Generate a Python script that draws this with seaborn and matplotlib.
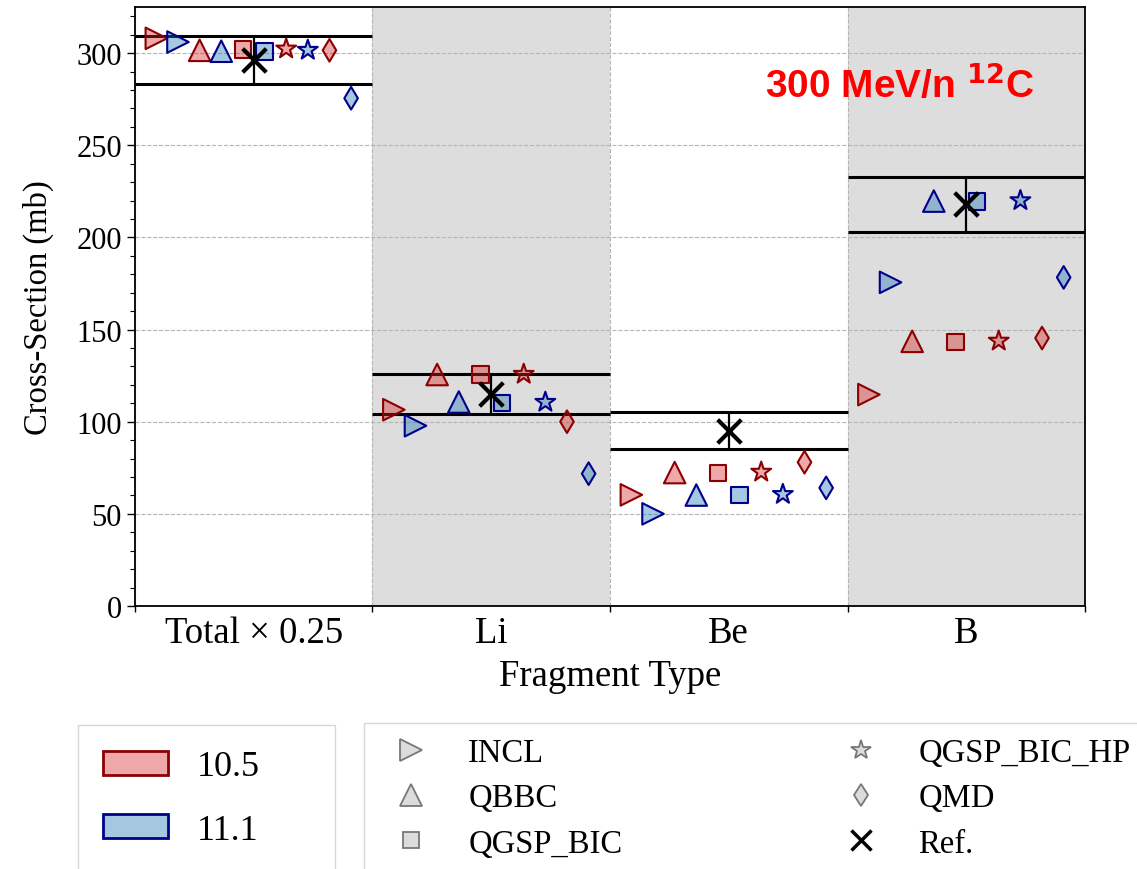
import numpy as np
import pandas as pd
import matplotlib
matplotlib.use("Agg")
import matplotlib.pyplot as plt
from matplotlib.lines import Line2D
from matplotlib.patches import Patch
from matplotlib.ticker import MultipleLocator
import seaborn as sns

# ---------------- data ----------------
categories = ["Total × 0.25", "Li", "Be", "B"]
models = ["INCL", "QBBC", "QGSP_BIC", "QGSP_BIC_HP", "QMD"]
versions = ["10.5", "11.1"]

# values per category, ordered as models (Total already scaled by 0.25)
v105_total = [308.0, 301.5, 302.0, 302.3, 301.5]
v105_li = [106.5, 125.6, 125.6, 125.8, 100.0]
v105_be = [60.3, 72.4, 72.1, 72.7, 78.0]
v105_b = [114.7, 143.6, 143.3, 143.8, 145.4]

v111_total = [306.0, 301.0, 301.0, 301.6, 275.5]
v111_li = [97.8, 110.7, 110.2, 110.6, 71.8]
v111_be = [50.0, 60.2, 60.2, 60.6, 64.1]
v111_b = [175.6, 219.7, 219.4, 220.0, 178.3]

ref_values = [296.0, 115.0, 95.0, 218.0]
ref_errors = [13.0, 11.0, 10.0, 15.0]

# ---------------- styling ----------------
sns.set_theme(style="ticks")
plt.rcParams["font.family"] = ["Liberation Serif", "DejaVu Serif"]
plt.rcParams["mathtext.fontset"] = "custom"
plt.rcParams["mathtext.bf"] = "Liberation Sans Narrow:bold"
plt.rcParams["mathtext.rm"] = "Liberation Sans Narrow:bold"
for k in ("text.color", "axes.labelcolor", "xtick.color", "ytick.color",
          "xtick.labelcolor", "ytick.labelcolor"):
    plt.rcParams[k] = "black"

tab_red = matplotlib.colors.to_rgb("#d62728")
tab_blue = matplotlib.colors.to_rgb("#1f77b4")
face = {"10.5": (*tab_red, 0.4), "11.1": (*tab_blue, 0.4)}
edge = {"10.5": "#8b0000", "11.1": "#00008b"}
marker_map = {"INCL": ">", "QBBC": "^", "QGSP_BIC": "s", "QGSP_BIC_HP": "*", "QMD": "d"}
msize = {"INCL": 15.5, "QBBC": 15.5, "QGSP_BIC": 12, "QGSP_BIC_HP": 15, "QMD": 11.5}
size_map = {m: msize[m] ** 2 for m in models}

# ---------------- long table ----------------
vals = {"10.5": [v105_total, v105_li, v105_be, v105_b],
        "11.1": [v111_total, v111_li, v111_be, v111_b]}
offsets = np.linspace(-0.41, 0.41, 10)
rows = []
for ci, cat in enumerate(categories):
    for mi, m in enumerate(models):
        for vi, v in enumerate(versions):
            rows.append({"x": ci + offsets[2 * mi + vi], "y": vals[v][ci][mi],
                         "model": m, "version": v})
df = pd.DataFrame(rows)

fig = plt.figure(figsize=(11.37, 8.70), dpi=100)
ax = fig.add_axes([0.1187, 0.3023, 0.8356, 0.6885])

for ci in (1, 3):
    ax.axvspan(ci - 0.5, ci + 0.5, color="#dddddd", zorder=0, lw=0)

for v in versions:
    sub = df[df.version == v]
    sns.scatterplot(data=sub, x="x", y="y", style="model", size="model",
                    markers=marker_map, sizes=size_map, style_order=models,
                    size_order=models, color=face[v], edgecolor=edge[v],
                    linewidth=1.5, legend=False, ax=ax, zorder=3)

xs = np.arange(len(categories))
ref_lo = np.array(ref_values) - np.array(ref_errors)
ref_hi = np.array(ref_values) + np.array(ref_errors)
ax.hlines(ref_hi, xs - 0.5, xs + 0.5, color="black", lw=2.2, zorder=2)
ax.hlines(ref_lo, xs - 0.5, xs + 0.5, color="black", lw=2.2, zorder=2)
ax.vlines(xs, ref_lo, ref_hi, color="black", lw=1.6, zorder=2)
ref_df = pd.DataFrame({"x": xs, "y": ref_values})
sns.scatterplot(data=ref_df, x="x", y="y", marker="x", s=17 ** 2, color="black",
                linewidth=3, legend=False, ax=ax, zorder=4)

ax.set_xlim(-0.5, 3.5)
ax.set_ylim(0, 325)
ax.set_xticks(np.arange(-0.5, 4.0, 1.0))
ax.set_xticklabels([])
ax.set_xticks(xs, minor=True)
ax.set_xticklabels(categories, minor=True, fontsize=26.5)
ax.tick_params(axis="x", which="minor", length=0, pad=7)
ax.tick_params(axis="x", which="major", length=4, width=1, direction="out")
ax.yaxis.set_major_locator(MultipleLocator(50))
ax.yaxis.set_minor_locator(MultipleLocator(10))
ax.tick_params(axis="y", which="major", length=6, width=1, labelsize=22)
ax.tick_params(axis="y", which="minor", length=3.5, width=0.8)
ax.grid(axis="y", which="major", ls="--", color="#b5b5b5", lw=0.8)
ax.grid(axis="x", which="major", ls="--", color="#b5b5b5", lw=0.8)
ax.set_axisbelow(True)
for s in ax.spines.values():
    s.set_color("black")
    s.set_linewidth(1.3)

ax.set_xlabel("Fragment Type", fontsize=26.5, labelpad=6)
ax.set_ylabel("Cross-Section (mb)", fontsize=23.5, labelpad=16)

ax.text(0.805, 0.871, r"300 MeV/n $^{\mathbf{12}}$C", transform=ax.transAxes,
        ha="center", va="center", color="red", fontsize=28, fontweight="bold",
        family=["Liberation Sans Narrow", "Liberation Sans"])

# legends
ver_handles = [Patch(facecolor=face[v], edgecolor=edge[v], lw=2, label=v) for v in versions]
leg1 = fig.legend(handles=ver_handles, loc="upper left",
                  bbox_to_anchor=(0.0686, 0.1555, 0.226, 0.01), mode="expand",
                  borderaxespad=0, fontsize=26, handlelength=1.8, handleheight=0.65,
                  handletextpad=0.78, borderpad=0.7, labelspacing=0.85,
                  frameon=True, fancybox=False, edgecolor="#cccccc")

mod_handles = [Line2D([], [], ls="none", marker=marker_map[m], markersize=msize[m],
                      markerfacecolor="#dcdcdc", markeredgecolor="#777777",
                      markeredgewidth=1.3, label=m) for m in models]
mod_handles.append(Line2D([], [], ls="none", marker="x", markersize=15, color="black",
                          markeredgewidth=2.5, label="Ref."))
leg2 = fig.legend(handles=mod_handles, loc="upper left", ncol=2,
                  bbox_to_anchor=(0.320, 0.1578, 0.687, 0.01), mode="expand",
                  borderaxespad=0, fontsize=23.5, handlelength=2.0,
                  handletextpad=0.75, borderpad=0.45, labelspacing=0.45,
                  frameon=True, fancybox=False, edgecolor="#cccccc")

fig.savefig("out.png", dpi=100)
